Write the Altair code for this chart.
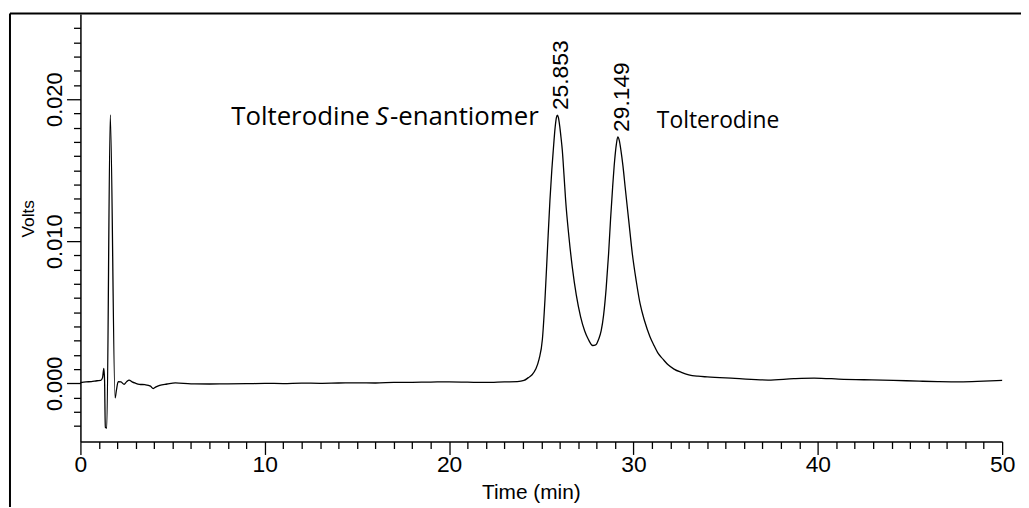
import altair as alt
import pandas as pd

# ---- chromatogram trace ----
time_min = [0.0, 0.3, 0.6, 0.9, 1.1, 1.2, 1.27, 1.31, 1.35, 1.43, 1.62, 1.88, 1.95, 2.05,
            2.2, 2.37, 2.5, 2.64, 2.8, 3.0, 3.2, 3.5, 3.8, 3.95, 4.1, 4.3, 4.7, 5.15,
            6.0, 7.0, 8.0, 9.0, 10.0, 11.0, 12.0, 13.0, 14.0, 15.0, 16.0, 17.0, 18.0,
            19.0, 20.0, 21.0, 22.0, 23.0, 23.7, 24.06, 24.3, 24.5, 24.7, 24.88, 25.06,
            25.2, 25.33, 25.47, 25.57, 25.65, 25.75, 25.82, 25.87, 25.93, 26.0, 26.07,
            26.14, 26.23, 26.32, 26.5, 26.68, 26.9, 27.13, 27.35, 27.55, 27.79, 27.95,
            28.11, 28.25, 28.38, 28.52, 28.65, 28.76, 28.87, 28.98, 29.07, 29.15, 29.23,
            29.32, 29.43, 29.55, 29.74, 29.94, 30.15, 30.36, 30.6, 30.89, 31.1, 31.34,
            31.6, 31.88, 32.2, 32.6, 33.0, 33.5, 34.0, 35.5, 37.3, 38.7, 39.8, 41.4,
            42.5, 44.1, 45.5, 46.5, 47.7, 49.0, 50.0]
volts = [0.00005, 0.0001, 0.00012, 0.00018, 0.0002, 0.0004, 0.00105, 0.0002, -0.0031,
         -0.00315, 0.0189, -0.00103, -0.0005, 0.00012, 0.0001, -0.00007, 0.0001,
         0.00023, 0.0001, 0.0, -0.00007, -0.0001, -0.0002, -0.00037, -0.00025,
         -0.00014, -0.00005, 0.00003, -0.00004, -0.00005, -0.00004, -0.00003, 0.0,
         -0.00002, 0.00001, 0.0, 0.00002, 0.00003, 0.00002, 0.00006, 0.00007, 0.00009,
         0.0001, 0.00008, 0.00006, 0.0001, 0.00012, 0.0002, 0.0004, 0.0006, 0.001,
         0.0017, 0.0031, 0.0059, 0.0093, 0.0129, 0.015, 0.0164, 0.018, 0.0187, 0.01888,
         0.0187, 0.0181, 0.0173, 0.0164, 0.0147, 0.0129, 0.0103, 0.0082, 0.0062,
         0.0047, 0.0037, 0.0031, 0.00266, 0.0027, 0.0031, 0.0037, 0.0048, 0.0067,
         0.0091, 0.0116, 0.0138, 0.0157, 0.0168, 0.01734, 0.0171, 0.0164, 0.0153,
         0.0138, 0.0115, 0.0091, 0.0072, 0.0056, 0.0044, 0.0033, 0.0027, 0.0021,
         0.0017, 0.0013, 0.001, 0.00077, 0.0006, 0.0005, 0.00045, 0.00035, 0.00023,
         0.00033, 0.00037, 0.00028, 0.00025, 0.00021, 0.00015, 0.00012, 0.0001,
         0.00015, 0.0002]

# ---- peak retention-time labels ----
peak_times = [25.853, 29.149]
peak_volts = [0.01888, 0.01734]
peak_label_offset = 0.00035

# ---- compound annotations ----
ann_text = ["Tolterodine", "S", "-enantiomer", "Tolterodine"]
ann_t = [8.18, 16.36, 16.79, 31.27]
ann_v = [0.01816, 0.01816, 0.01816, 0.01794]
ann_kind = ["big", "italic", "big", "small"]

# ---- axis ticks ----
x_tick_values = list(range(0, 51))
y_tick_values = [round(-0.003 + 0.001 * i, 3) for i in range(29)]

X_DOMAIN = [0, 50]
Y_DOMAIN = [-0.0041, 0.026]

trace = pd.DataFrame({"t": time_min, "v": volts})
peaks = pd.DataFrame({
    "t": peak_times,
    "v": [p + peak_label_offset for p in peak_volts],
    "label": [f"{p:.3f}" for p in peak_times],
})
ann = pd.DataFrame({"t": ann_t, "v": ann_v, "text": ann_text, "kind": ann_kind})

AXIS_FONT = "Liberation Sans"
ANN_FONT = "Open Sans"

x_scale = alt.Scale(domain=X_DOMAIN, nice=False, zero=False)
y_scale = alt.Scale(domain=Y_DOMAIN, nice=False, zero=False)

Y_MAJOR = "abs(datum.value * 100 - round(datum.value * 100)) < 1e-6"

x_axis = alt.Axis(
    values=x_tick_values, tickCount=500, format="d",
    labelExpr="datum.value % 10 === 0 ? datum.label : ''",
    tickSize={"condition": {"test": "datum.value % 10 === 0", "value": 13}, "value": 7},
    labelFont=AXIS_FONT, labelFontSize=23, labelColor="black", labelPadding=-1,
    labelFlush=False, labelOverlap=False,
    title="Time (min)", titleFont=AXIS_FONT, titleFontSize=21, titleFontWeight="normal",
    titleColor="black", titleX=454, titleY=57, titleAlign="center",
    titleBaseline="alphabetic", titleAnchor="start",
    domainColor="black", domainWidth=1.5, tickColor="black", tickWidth=1.3, grid=False,
)
y_axis = alt.Axis(
    values=y_tick_values, tickCount=500,
    labelExpr=f"{Y_MAJOR} ? format(datum.value, '.3f') : ''",
    tickSize={"condition": {"test": Y_MAJOR, "value": 14}, "value": 7},
    labelFont=AXIS_FONT, labelFontSize=22, labelColor="black", labelAngle=270,
    labelAlign="center", labelBaseline="alphabetic", labelPadding=5,
    labelFlush=False, labelOverlap=False,
    title="Volts", titleFont=AXIS_FONT, titleFontSize=17.5, titleFontWeight="normal",
    titleColor="black", titleAngle=270, titleX=-47, titleY=206, titleAlign="center",
    titleBaseline="alphabetic", titleAnchor="start",
    domainColor="black", domainWidth=1.5, tickColor="black", tickWidth=1.3, grid=False,
)

line = alt.Chart(trace).mark_line(color="black", strokeWidth=1.3, interpolate="monotone").encode(
    x=alt.X("t:Q", scale=x_scale, axis=x_axis),
    y=alt.Y("v:Q", scale=y_scale, axis=y_axis),
)

peak_labels = alt.Chart(peaks).mark_text(
    font=AXIS_FONT, fontSize=23, angle=270, align="left", baseline="middle",
    dy=4, color="black"
).encode(x=alt.X("t:Q", scale=x_scale), y=alt.Y("v:Q", scale=y_scale), text="label:N")

def ann_layer(kind, align, style, size):
    return alt.Chart(ann[ann["kind"] == kind]).mark_text(
        font=ANN_FONT, fontSize=size, align=align, baseline="alphabetic",
        fontStyle=style, color="black"
    ).encode(x=alt.X("t:Q", scale=x_scale), y=alt.Y("v:Q", scale=y_scale), text="text:N")

ann_big = ann_layer("big", "left", "normal", 26)
ann_italic = ann_layer("italic", "center", "italic", 26)
ann_small = ann_layer("small", "left", "normal", 23)

one = pd.DataFrame({"a": [0]})
frame_top = alt.Chart(one).mark_rule(color="black", strokeWidth=2).encode(
    x=alt.value(-71), x2=alt.value(950), y=alt.value(-0.5))
frame_left = alt.Chart(one).mark_rule(color="black", strokeWidth=2).encode(
    x=alt.value(-71), y=alt.value(-0.5), y2=alt.value(520))

chart = alt.layer(line, peak_labels, ann_big, ann_italic, ann_small, frame_top, frame_left).properties(
    width=929, height=431,
    autosize=alt.AutoSizeParams(type="none"),
    padding={"left": 73, "top": 4, "right": 19, "bottom": 64},
    background="white",
).configure_view(stroke=None)

chart.save("out.html", embed_options={"renderer": "svg", "actions": False})
